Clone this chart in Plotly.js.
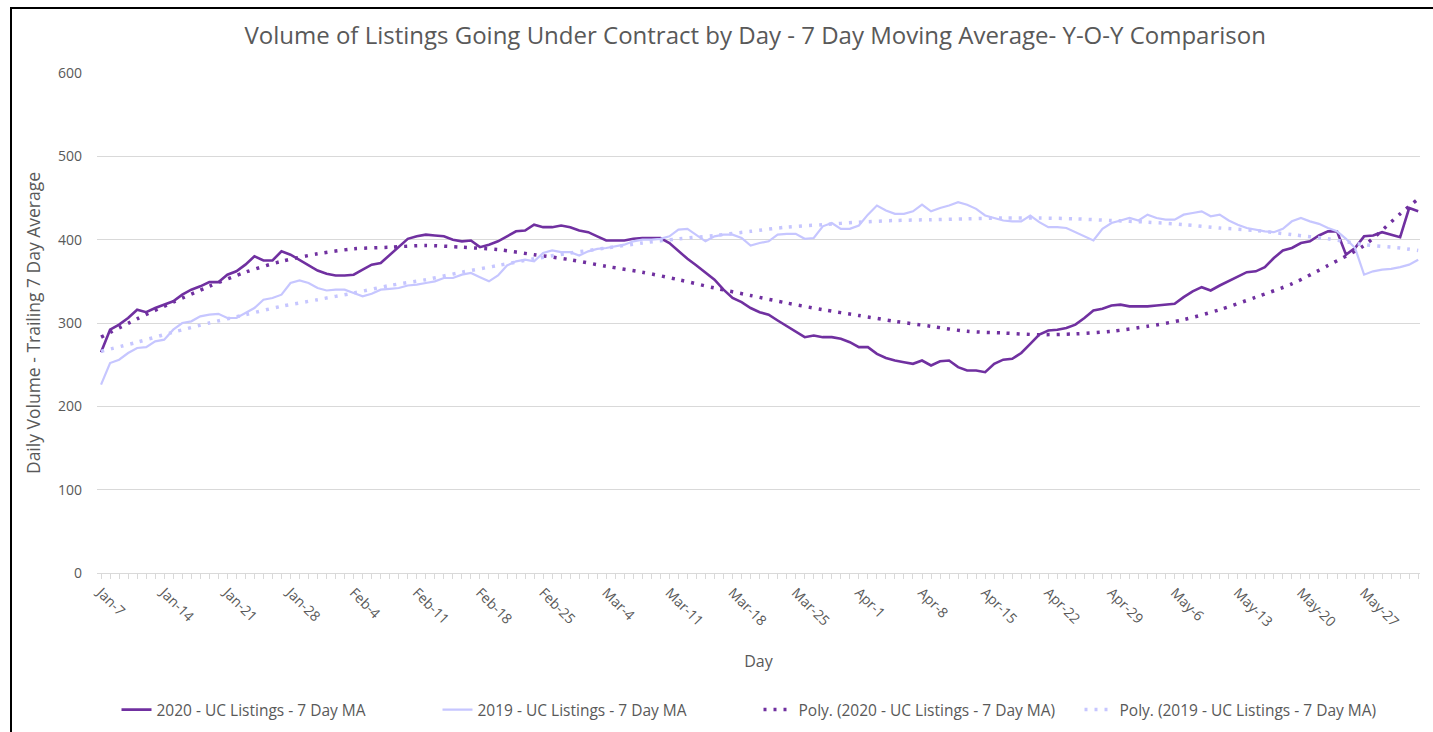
<!DOCTYPE html>
<html>
<head>
<meta charset="utf-8">
<script src="https://cdn.plot.ly/plotly-3.0.1.min.js"></script>
<style>
  html, body { margin: 0; padding: 0; background: #fff; overflow: hidden; }
  #chart { width: 1433px; height: 732px; }
  #frame { position: absolute; left: 10px; top: 7px; width: 1450px; height: 760px;
           border: 2px solid #000; pointer-events: none; }
</style>
</head>
<body>
<div id="chart"></div>
<div id="frame"></div>
<script>
// ---- Data, one value per day from Jan-7 ----
const tickLabels = ["Jan-7","Jan-14","Jan-21","Jan-28","Feb-4","Feb-11","Feb-18","Feb-25",
  "Mar-4","Mar-11","Mar-18","Mar-25","Apr-1","Apr-8","Apr-15","Apr-22","Apr-29",
  "May-6","May-13","May-20","May-27"];

const ma2020 = [
  265,292,298,306,316,313,318,322,326,334,
  340,344,349,349,358,362,370,380,375,375,
  386,382,376,369,363,359,357,357,358,364,
  370,372,382,392,401,404,406,405,404,400,
  398,399,391,394,398,404,410,411,418,415,
  415,417,415,411,409,404,399,399,399,401,
  402,402,402,396,386,377,369,361,352,340,
  330,325,318,313,310,303,296,290,283,285,
  283,283,281,277,271,271,263,258,255,253,
  251,255,249,254,255,247,243,243,241,251,
  256,257,264,275,286,291,292,294,298,306,
  315,317,321,322,320,320,320,321,322,323,
  331,338,343,339,345,350,356,361,362,367,
  378,387,390,396,398,405,410,410,382,390,
  404,405,409,406,403,438,434
];

const ma2019 = [
  226,252,256,264,270,271,278,280,292,300,
  302,308,310,311,306,306,312,318,328,330,
  334,348,351,348,342,339,340,340,336,332,
  335,340,341,342,345,346,348,350,354,354,
  358,360,355,350,357,369,374,376,374,384,
  387,385,385,381,386,389,390,392,394,398,
  400,400,401,404,412,413,406,398,404,406,
  406,402,393,396,398,406,407,407,401,402,
  416,420,413,413,417,430,441,435,431,431,
  434,442,434,438,441,445,442,437,429,426,
  423,422,422,429,421,415,415,414,409,404,
  399,413,420,423,426,423,430,426,424,424,
  430,432,434,428,430,423,418,414,412,410,
  409,413,422,426,422,419,414,410,401,390,
  358,362,364,365,367,370,376
];

// Polynomial trendlines as drawn in the reference, read every 4 days
const trendDays = [0,4,8,12,16,20,24,28,32,36,40,44,48,52,56,60,64,68,72,76,
  80,84,88,92,96,100,104,108,112,116,120,124,128,132,136,140,144,146];
const trend2020 = [283,305,325,344,361,374,383,389,391,393,391,388,382,376,368,361,352,342,333,324,
  316,309,302,296,290,288,286,287,290,296,304,316,331,347,369,393,431,449];
const trend2019 = [266,277,289,300,310,320,328,336,345,352,361,369,377,384,390,396,401,405,410,415,
  418,421,423,424,425,426,426,425,423,421,418,414,411,406,401,394,390,387];

const seriesNames = [
  "2020 - UC Listings - 7 Day MA",
  "2019 - UC Listings - 7 Day MA",
  "Poly. (2020 - UC Listings - 7 Day MA)",
  "Poly. (2019 - UC Listings - 7 Day MA)"
];

const days = ma2020.map((_, i) => i);
const tickVals = tickLabels.map((_, i) => i * 7);

const DARK = "#7030A0";
const LIGHT = "#C6C6FF";
const FONT = "Open Sans, DejaVu Sans, sans-serif";
const GREY = "#595959";

const traces = [
  {x: days, y: ma2020, name: seriesNames[0], type: "scatter", mode: "lines",
   line: {color: DARK, width: 2.6}},
  {x: days, y: ma2019, name: seriesNames[1], type: "scatter", mode: "lines",
   line: {color: LIGHT, width: 2.2}},
  {x: trendDays, y: trend2020, name: seriesNames[2], type: "scatter", mode: "lines",
   line: {color: DARK, width: 3.5, dash: "3px,7px", shape: "spline", smoothing: 0.8}},
  {x: trendDays, y: trend2019, name: seriesNames[3], type: "scatter", mode: "lines",
   line: {color: LIGHT, width: 3.5, dash: "3px,7px", shape: "spline", smoothing: 0.8}}
];

const layout = {
  width: 1433, height: 732,
  paper_bgcolor: "#fff", plot_bgcolor: "#fff",
  margin: {l: 97, r: 13, t: 73, b: 159},
  font: {family: FONT, color: GREY},
  title: {text: "Volume of Listings Going Under Contract by Day - 7 Day Moving Average- Y-O-Y Comparison",
          font: {family: FONT, size: 24, color: GREY},
          x: 0.527, xanchor: "center", y: 0.952, yanchor: "middle", yref: "container"},
  xaxis: {
    range: [-0.45, 146.2], tickmode: "array", tickvals: tickVals, ticktext: tickLabels,
    tickangle: 45, tickfont: {family: FONT, size: 14, color: GREY},
    showgrid: false, zeroline: false, showline: true, linecolor: "#D9D9D9", linewidth: 1,
    ticks: "outside", ticklen: 5, tickcolor: "#D9D9D9",
    minor: {tickmode: "linear", tick0: 0, dtick: 1, ticks: "outside", ticklen: 5, tickcolor: "#D9D9D9", showgrid: false},
    title: {text: "Day", font: {family: FONT, size: 16, color: GREY}, standoff: 26},
    automargin: false
  },
  yaxis: {
    range: [0, 600], dtick: 100, tick0: 0,
    tickfont: {family: FONT, size: 14, color: GREY},
    showgrid: true, gridcolor: "#D9D9D9", gridwidth: 1,
    zeroline: false, showline: false, ticks: "", ticklabelstandoff: 14,
    title: {text: "Daily Volume - Trailing 7 Day Average", font: {family: FONT, size: 17.5, color: GREY}, standoff: 12},
    automargin: false
  },
  showlegend: true,
  legend: {orientation: "h", x: 0.5, xanchor: "center", xref: "paper",
           y: 0.03, yanchor: "middle", yref: "container",
           entrywidth: 276, entrywidthmode: "pixels",
           font: {family: FONT, size: 15.5, color: GREY}, bgcolor: "rgba(0,0,0,0)"}
};

Plotly.newPlot("chart", traces, layout, {displayModeBar: false, staticPlot: true});
</script>
</body>
</html>
